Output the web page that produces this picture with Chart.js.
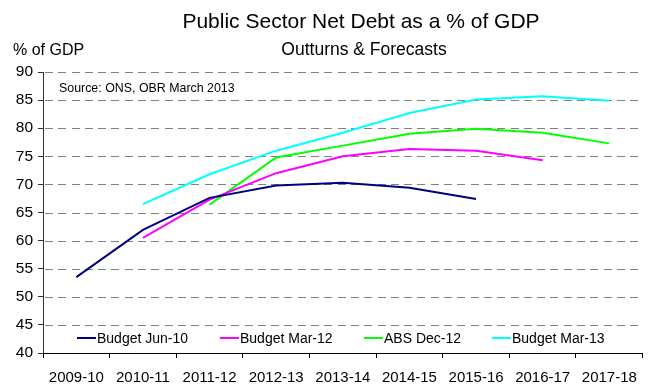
<!DOCTYPE html>
<html>
<head>
<meta charset="utf-8">
<script src="https://cdn.jsdelivr.net/npm/chart.js@4"></script>
<style>
  html, body { margin: 0; padding: 0; background: #fff; }
  #wrap { width: 648px; height: 386px; position: relative; }
</style>
</head>
<body>
<div id="wrap"><canvas id="c" width="648" height="386"></canvas></div>
<script>
// Fiscal years on the category axis
const years = ['2009-10', '2010-11', '2011-12', '2012-13', '2013-14', '2014-15', '2015-16', '2016-17', '2017-18'];

// Public sector net debt, % of GDP, by forecast vintage
const budgetJun10 = [53.5, 61.9, 67.6, 69.8, 70.3, 69.4, 67.4, null, null];
const budgetMar12 = [null, 60.5, 67.3, 72.0, 75.0, 76.3, 76.0, 74.3, null];
const absDec12    = [null, null, 66.4, 74.8, 76.9, 79.0, 79.9, 79.2, 77.3];
const budgetMar13 = [null, 66.5, 71.8, 76.0, 79.2, 82.7, 85.1, 85.7, 84.9];

const seriesNames = ['Budget Jun-10', 'Budget Mar-12', 'ABS Dec-12', 'Budget Mar-13'];
const seriesColors = ['#000080', '#FF00FF', '#00FF00', '#00FFFF'];

// Value axis range
const yMin = 40, yMax = 90, yStep = 5;

const FONT = '"Liberation Sans", Arial, sans-serif';

// Dashed horizontal gridlines at every value-axis tick, drawn beneath the lines
const DASH = 8, GAP = 5.3;
const dashedGrid = {
  id: 'dashedGrid',
  beforeDatasetsDraw(chart) {
    const { ctx, chartArea, scales } = chart;
    const y = scales.y;
    ctx.save();
    ctx.fillStyle = '#808080';
    y.ticks.forEach(t => {
      if (t.value === yMin) return;
      const py = Math.round(y.getPixelForValue(t.value));
      for (let x = chartArea.left + 2; x < chartArea.right; x += DASH + GAP) {
        const w = Math.min(DASH, chartArea.right - x);
        ctx.fillRect(Math.round(x), py, Math.round(w), 1);
      }
    });
    ctx.restore();
  }
};

// Headings, axis caption, source note and the in-plot legend
const annotations = {
  id: 'annotations',
  afterDraw(chart) {
    const { ctx, chartArea } = chart;
    ctx.save();
    ctx.fillStyle = '#000';
    ctx.textBaseline = 'alphabetic';

    ctx.textAlign = 'center';
    ctx.font = '21px ' + FONT;
    ctx.fillText('Public Sector Net Debt as a % of GDP', 361, 28);
    ctx.font = '17.5px ' + FONT;
    ctx.fillText('Outturns & Forecasts', 364, 55);

    ctx.textAlign = 'left';
    ctx.font = '16px ' + FONT;
    ctx.fillText('% of GDP', 13, 55);

    ctx.font = '12.4px ' + FONT;
    ctx.fillText('Source: ONS, OBR March 2013', chartArea.left + 16, chartArea.top + 20);

    // legend entries along the bottom of the plot
    const legendX = [34, 177, 321, 449];
    const legendY = chartArea.bottom - 15;
    ctx.font = '14px ' + FONT;
    ctx.textBaseline = 'middle';
    chart.data.datasets.forEach((ds, i) => {
      const x0 = chartArea.left + legendX[i];
      ctx.strokeStyle = ds.borderColor;
      ctx.lineWidth = 2;
      ctx.beginPath();
      ctx.moveTo(x0, legendY);
      ctx.lineTo(x0 + 19, legendY);
      ctx.stroke();
      ctx.fillStyle = '#000';
      ctx.fillText(ds.label, x0 + 20, legendY + 1);
    });
    ctx.restore();
  }
};

const series = [budgetJun10, budgetMar12, absDec12, budgetMar13];

new Chart(document.getElementById('c'), {
  type: 'line',
  data: {
    labels: years,
    datasets: series.map((vals, i) => ({
      label: seriesNames[i],
      data: vals,
      borderColor: seriesColors[i],
      backgroundColor: seriesColors[i],
      borderWidth: 2,
      pointRadius: 0,
      pointHoverRadius: 0,
      tension: 0,
      fill: false,
      spanGaps: false
    }))
  },
  options: {
    responsive: false,
    animation: false,
    events: [],
    layout: { padding: { top: 72, right: 3, left: 0, bottom: 0 } },
    plugins: {
      legend: { display: false },
      title: { display: false },
      tooltip: { enabled: false }
    },
    scales: {
      x: {
        type: 'category',
        offset: true,
        grid: {
          offset: true,
          drawOnChartArea: false,
          drawTicks: true,
          tickLength: 5,
          color: '#000',
          lineWidth: 1
        },
        border: { display: true, color: '#000', width: 1 },
        ticks: {
          color: '#000',
          font: { family: FONT, size: 15 },
          padding: 11,
          maxRotation: 0,
          autoSkip: false
        },
        afterFit(scale) { scale.height = 33; }
      },
      y: {
        min: yMin,
        max: yMax,
        ticks: {
          stepSize: yStep,
          color: '#000',
          font: { family: FONT, size: 15.5 },
          padding: 5
        },
        grid: {
          drawOnChartArea: false,
          drawTicks: true,
          tickColor: '#333',
          tickLength: 5,
          lineWidth: 1
        },
        border: { display: true, color: '#333', width: 1 },
        afterFit(scale) { scale.width = 43; }
      }
    }
  },
  plugins: [dashedGrid, annotations]
});
</script>
</body>
</html>
